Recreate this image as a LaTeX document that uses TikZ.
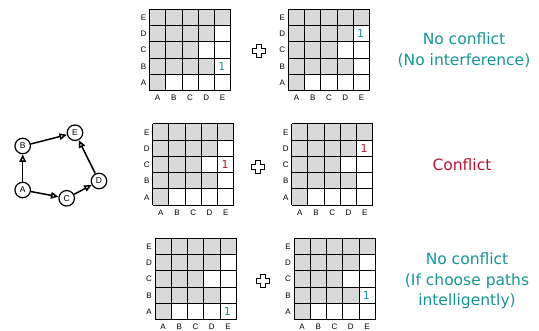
\documentclass[tikz,border=0pt]{standalone}
\usepackage{fontspec}
\setmainfont{Liberation Sans}
\newfontfamily\verdfont{DejaVu Sans}
\usetikzlibrary{arrows.meta}
\definecolor{okteal}{RGB}{20,150,150}
\definecolor{badred}{RGB}{190,20,50}
\definecolor{cellgray}{RGB}{217,217,217}

\tikzset{
  gridline/.style={line width=1pt},
  axislabel/.style={font=\fontsize{8}{9}\selectfont, inner sep=0pt,
    text height=5.8pt, text depth=0pt},
  onemark/.style={font=\verdfont\fontsize{11}{12}\selectfont, inner sep=0pt},
  plusline/.style={line width=0.9pt, line join=miter},
  vert/.style={circle, draw, line width=1.2pt, minimum size=15.5pt, inner sep=0pt,
    font=\fontsize{8.5}{9}\selectfont},
  edge/.style={line width=1.5pt, -{Triangle[open,length=7.5pt,width=6.5pt]}},
  verdict/.style={align=center, font=\verdfont\fontsize{15.5}{20.5}\selectfont}
}

\newcommand{\cs}{16.25}
% #1 name, #2 left, #3 top, #4 row of the 1 (0 = A), #5 colour
\newcommand{\confgrid}[5]{%
  \begin{scope}[shift={(#2,#3)}]
    \foreach \r/\n in {0/1,1/4,2/3,3/4,4/5}
      \foreach \c in {1,...,\n}
        \fill[cellgray] ({(\c-1)*\cs},{(4-\r)*\cs}) rectangle ++(\cs,\cs);
    \foreach \i in {0,...,5} {
      \draw[gridline] ({\i*\cs},0) -- ({\i*\cs},{5*\cs});
      \draw[gridline] (0,{\i*\cs}) -- ({5*\cs},{\i*\cs});
    }
    \foreach \l [count=\k from 0] in {A,B,C,D,E} {
      \node[axislabel] (#1-r\l) at (-6,{(4.5-\k)*\cs}) {\l};
      \node[axislabel] (#1-c\l) at ({(\k+0.5)*\cs},{5*\cs+7}) {\l};
    }
    \node[onemark, text=#5] (#1-one) at ({4.45*\cs},{(4.5-#4)*\cs}) {1};
  \end{scope}}

% outlined plus between two grids
\newcommand{\plusmark}[2]{%
  \draw[plusline] (#1,#2) ++(-2.5,-6.5) -- ++(5,0) -- ++(0,4) -- ++(4,0)
    -- ++(0,5) -- ++(-4,0) -- ++(0,4) -- ++(-5,0) -- ++(0,-4) -- ++(-4,0)
    -- ++(0,-5) -- ++(4,0) -- cycle;}

\begin{document}
\begin{tikzpicture}[x=1pt, y=-1pt]
    \useasboundingbox (0,0) rectangle (539,331);

    % the network
    \node[vert] (A) at (22.7,190) {A};
    \node[vert] (B) at (22.7,146) {B};
    \node[vert] (C) at (66.7,198.3) {C};
    \node[vert] (D) at (99,181) {D};
    \node[vert] (E) at (75,132.7) {E};
    \draw[edge] (A) -- (B);
    \draw[edge] (B) -- (E);
    \draw[edge] (A) -- (C);
    \draw[edge] (C) -- (D);
    \draw[edge] (D) -- (E);

    % first pair
    \confgrid{ga}{149.5}{9.3}{1}{okteal}
    \plusmark{258.5}{51}
    \confgrid{gb}{288.3}{9.3}{3}{okteal}
    \node[verdict, text=okteal] (va) at (464,50) {No conflict\\(No interference)};

    % second pair
    \confgrid{gc}{152.7}{124}{2}{badred}
    \plusmark{258}{166.5}
    \confgrid{gd}{291.7}{124}{3}{badred}
    \node[verdict, text=badred] (vb) at (462,165) {Conflict};

    % third pair
    \confgrid{ge}{155}{238.3}{0}{okteal}
    \plusmark{262.5}{281}
    \confgrid{gf}{294}{238.3}{1}{okteal}
    \node[verdict, text=okteal] (vc) at (467,281) {No conflict\\(If choose paths\\intelligently)};
\end{tikzpicture}
\end{document}
